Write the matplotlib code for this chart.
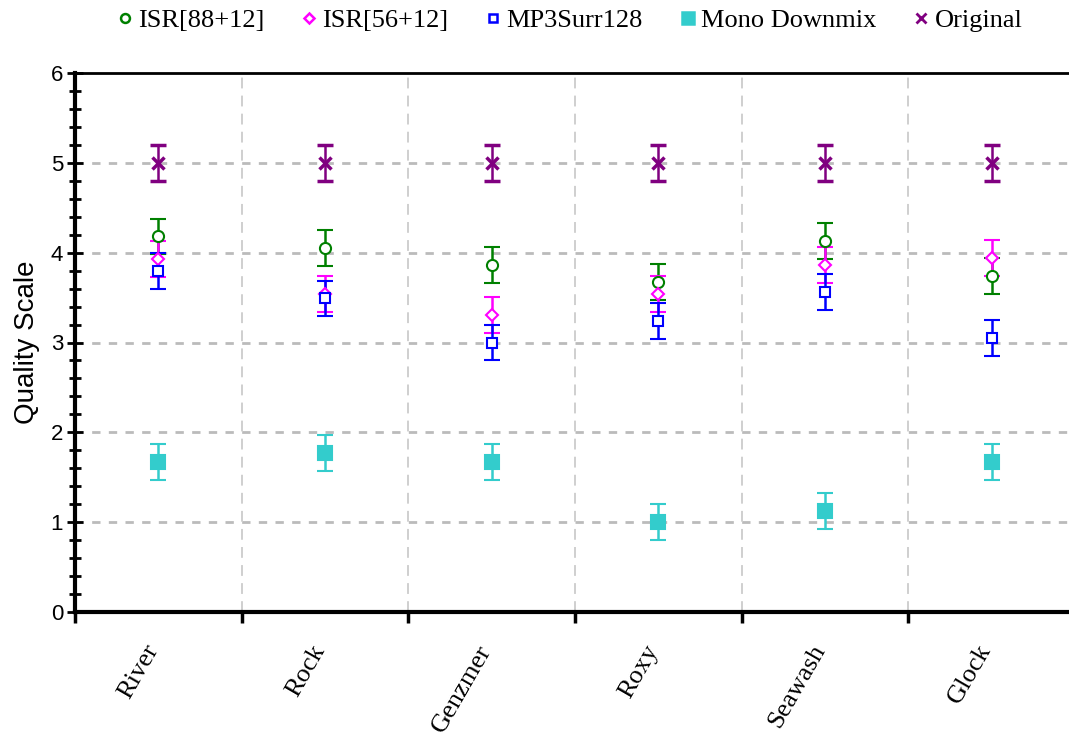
import numpy as np
import matplotlib
matplotlib.use("Agg")
import matplotlib.pyplot as plt
from matplotlib.lines import Line2D

# ── Data ─────────────────────────────────────────────────────────────────────
items = ["River", "Rock", "Genzmer", "Roxy", "Seawash", "Glock"]

isr88      = [4.18, 4.05, 3.86, 3.67, 4.13, 3.74]
isr88_err  = [0.20, 0.20, 0.20, 0.20, 0.20, 0.20]
isr56      = [3.93, 3.54, 3.31, 3.54, 3.86, 3.94]
isr56_err  = [0.20, 0.20, 0.20, 0.20, 0.20, 0.20]
mp3        = [3.80, 3.49, 3.00, 3.24, 3.56, 3.05]
mp3_err    = [0.20, 0.20, 0.20, 0.20, 0.20, 0.20]
mono       = [1.67, 1.77, 1.67, 1.00, 1.12, 1.67]
mono_err   = [0.20, 0.20, 0.20, 0.20, 0.20, 0.20]
orig       = [5.00, 5.00, 5.00, 5.00, 5.00, 5.00]
orig_err   = [0.20, 0.20, 0.20, 0.20, 0.20, 0.20]

series = [
    ("ISR[88+12]",  isr88, isr88_err, "o", "green",   "white",   8),
    ("ISR[56+12]",  isr56, isr56_err, "D", "#FF00FF", "white",   6.5),
    ("MP3Surr128",  mp3,   mp3_err,   "s", "blue",    "white",   7.5),
    ("Mono Downmix", mono, mono_err,  "s", "#33CCCC", "#33CCCC", 10),
    ("Original",    orig,  orig_err,  "x", "purple",  "purple",  8.5),
]

# ── Plot ─────────────────────────────────────────────────────────────────────
fig = plt.figure(figsize=(10.69, 7.40), dpi=100)
ax = fig.add_axes([75 / 1069, 128 / 740, 1000 / 1069, 539 / 740])

x = np.arange(len(items))
for name, vals, err, mk, col, fc, ms in series:
    ax.errorbar(x, vals, yerr=err, fmt=mk, color=col, mfc=fc, mec=col,
                ms=ms, mew=2.5 if mk == "x" else 1.5, elinewidth=1.8,
                capsize=5.5, capthick=1.8, linestyle="none", zorder=3)

ax.set_xlim(-0.5, len(items) - 0.5)
ax.set_ylim(0, 6)

# y axis
ax.set_yticks(range(0, 7))
ax.set_yticks(np.arange(0, 6.01, 0.2), minor=True)
ax.tick_params(axis="y", which="both", direction="inout", width=2,
               labelsize=16, labelfontfamily="Liberation Sans")
ax.tick_params(axis="y", which="major", length=11, pad=3)
ax.tick_params(axis="y", which="minor", length=9)
for y in range(1, 6):
    ax.axhline(y, color="#BBBBBB", linestyle=(0, (3, 3)), linewidth=2, zorder=1)

# x axis: ticks at category boundaries, labels at centres
ax.set_xticks(np.arange(-0.5, len(items), 1.0))
ax.set_xticklabels([])
ax.set_xticks(x, minor=True)
ax.set_xticklabels(items, minor=True, rotation=60, ha="right", va="baseline",
                   rotation_mode="anchor", fontsize=19, family="Liberation Serif")
ax.tick_params(axis="x", which="major", direction="out", length=8, width=2.5)
ax.tick_params(axis="x", which="minor", length=0, pad=27)
ax.xaxis.grid(True, which="major", color="#CCCCCC", linestyle=(0, (6, 4)),
              linewidth=1.3, zorder=0)

for side in ["left", "bottom"]:
    ax.spines[side].set_linewidth(3)
ax.spines["top"].set_linewidth(2)

ax.set_ylabel("Quality Scale", fontsize=20, family="Liberation Sans", labelpad=8)

# legend
handles = [Line2D([], [], marker=mk, color=col, mfc=fc, mec=col, ms=ms * 0.8,
                  mew=2 if mk == "x" else 1.8, linestyle="none")
           for name, vals, err, mk, col, fc, ms in series]
fig.legend(handles, [s[0] for s in series], loc="upper center",
           bbox_to_anchor=(0.531, 1.02), ncol=5, frameon=False,
           prop={"family": "Liberation Serif", "size": 19},
           handletextpad=0.05, columnspacing=1.25, handlelength=0.9)

fig.savefig("out.png", dpi=100)
